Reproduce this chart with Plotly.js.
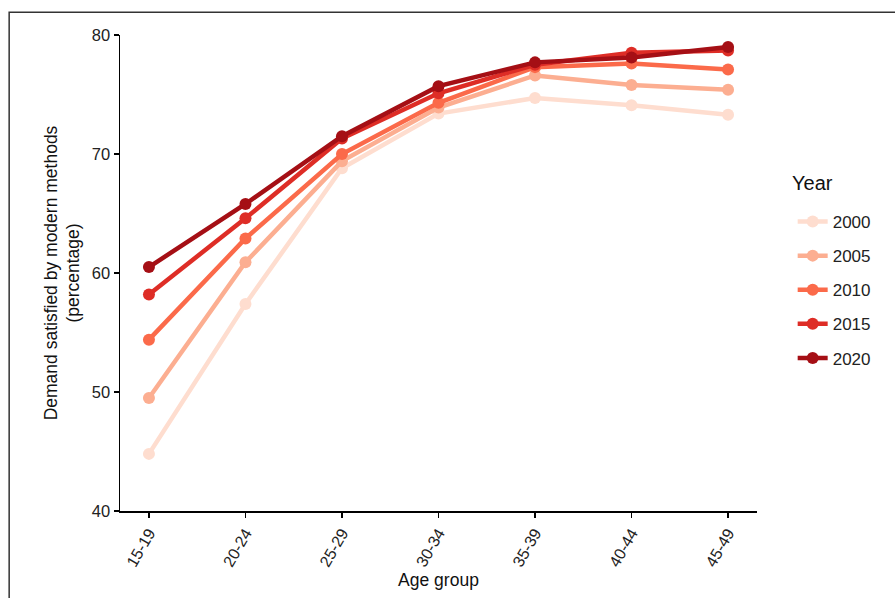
<!DOCTYPE html>
<html>
<head>
<meta charset="utf-8">
<script src="https://cdn.plot.ly/plotly-3.0.1.min.js"></script>
<style>html,body{margin:0;padding:0;background:#fff;}#chart{width:895px;height:598px;}</style>
</head>
<body>
<div id="chart"></div>
<script>
const ageGroups = ["15-19","20-24","25-29","30-34","35-39","40-44","45-49"];
const years = ["2000","2005","2010","2015","2020"];
const v2000 = [44.8, 57.4, 68.8, 73.4, 74.7, 74.1, 73.3];
const v2005 = [49.5, 60.9, 69.4, 73.9, 76.6, 75.8, 75.4];
const v2010 = [54.4, 62.9, 70.0, 74.3, 77.3, 77.6, 77.1];
const v2015 = [58.2, 64.6, 71.3, 75.1, 77.5, 78.5, 78.7];
const v2020 = [60.5, 65.8, 71.5, 75.7, 77.7, 78.1, 79.0];
const seriesValues = [v2000, v2005, v2010, v2015, v2020];
const colors = ["#FEDDCF", "#FCAE91", "#FB6A4A", "#DE2D26", "#A50F15"];

const traces = years.map((yr, i) => ({
  type: "scatter",
  mode: "lines+markers",
  name: yr,
  legendgroup: "g" + yr,
  x: ageGroups,
  y: seriesValues[i],
  line: {color: colors[i], width: 4.5},
  marker: {color: colors[i], size: 12},
  hoverinfo: "x+y+name"
}));

const layout = {
  width: 895, height: 598,
  paper_bgcolor: "#fff", plot_bgcolor: "#fff",
  font: {family: "Liberation Sans, Arial, sans-serif", size: 16, color: "#222"},
  margin: {l: 120, r: 138, t: 35, b: 87},
  showlegend: true,
  legend: {
    x: 1.056, xanchor: "left", y: 0.645, yanchor: "top",
    font: {size: 17, color: "#222"},
    tracegroupgap: 9,
    traceorder: "grouped",
    itemwidth: 30
  },
  annotations: [{
    text: "Year", xref: "paper", yref: "paper",
    x: 1.052, y: 0.689, xanchor: "left", yanchor: "middle",
    showarrow: false, font: {size: 20, color: "#111"}
  }],
  xaxis: {
    type: "category",
    categoryorder: "array", categoryarray: ageGroups,
    range: [-0.3, 6.3],
    showline: true, linecolor: "#000", linewidth: 1.5,
    ticks: "outside", ticklen: 5, tickwidth: 1.5, tickcolor: "#000",
    tickangle: -60,
    tickfont: {size: 16, color: "#222"},
    showgrid: false, zeroline: false,
    title: {text: "Age group", font: {size: 17.5, color: "#111"}, standoff: 3}
  },
  yaxis: {
    range: [40, 80],
    tickvals: [40, 50, 60, 70, 80],
    showline: true, linecolor: "#000", linewidth: 1.5,
    ticks: "outside", ticklen: 5, tickwidth: 1.5, tickcolor: "#000",
    tickfont: {size: 16.5, color: "#222"},
    showgrid: false, zeroline: false,
    title: {text: "Demand satisfied by modern methods<br>(percentage)", font: {size: 17.5, color: "#111"}, standoff: 7}
  },
  shapes: [{
    type: "rect", xref: "paper", yref: "paper",
    x0: -0.174, x1: 1.35, y0: -0.3, y1: 1.048,
    line: {color: "#333", width: 1.5}, fillcolor: "rgba(0,0,0,0)", layer: "below"
  }]
};

Plotly.newPlot("chart", traces, layout, {displayModeBar: false, staticPlot: true});
</script>
</body>
</html>
